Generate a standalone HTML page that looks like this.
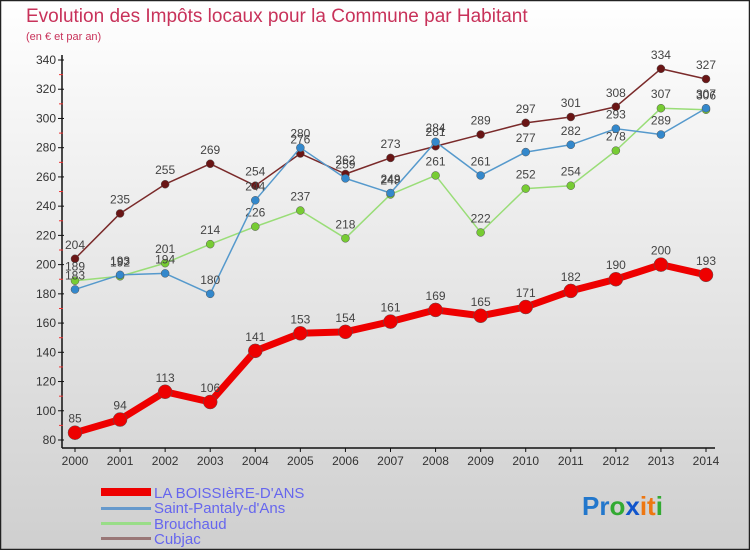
<!DOCTYPE html>
<html><head><meta charset="utf-8"><style>
body{margin:0;width:750px;height:550px;overflow:hidden;font-family:"Liberation Sans",sans-serif}
</style></head><body>
<svg id="c" width="750" height="550" xmlns="http://www.w3.org/2000/svg" style="display:block">
<defs><linearGradient id="bg" x1="0" y1="0" x2="0" y2="1"><stop offset="0" stop-color="#ffffff"/><stop offset="1" stop-color="#cfcfcf"/></linearGradient></defs>
<rect x="0.5" y="0.5" width="749" height="549" fill="url(#bg)" stroke="#222" stroke-width="1.5"/>
<text x="26" y="22" font-size="19" fill="#c8325a">Evolution des Impôts locaux pour la Commune par Habitant</text>
<text x="26" y="40" font-size="11" fill="#c8325a">(en € et par an)</text>
<g id="axes"></g><g id="series"></g>
<g>
<rect x="101" y="488" width="50" height="8" fill="#ee0000"/>
<text x="154" y="498" font-size="15" fill="#6666ee">LA BOISSIèRE-D'ANS</text>
<rect x="101" y="507" width="50" height="3" fill="#6699cc"/>
<text x="154" y="513" font-size="15" fill="#6666ee">Saint-Pantaly-d'Ans</text>
<rect x="101" y="522" width="50" height="3" fill="#99dd88"/>
<text x="154" y="529" font-size="15" fill="#6666ee">Brouchaud</text>
<rect x="101" y="537" width="50" height="3" fill="#997777"/>
<text x="154" y="544" font-size="15" fill="#6666ee">Cubjac</text>
</g>
<text x="582" y="515" font-size="26" font-weight="bold"><tspan fill="#2277cc">Pr</tspan><tspan fill="#33aa33">o</tspan><tspan fill="#1155cc">x</tspan><tspan fill="#ee7711">it</tspan><tspan fill="#33aa33">i</tspan></text>
</svg>
<script>
const years=[2000,2001,2002,2003,2004,2005,2006,2007,2008,2009,2010,2011,2012,2013,2014];
const boissiere=[85,94,113,106,141,153,154,161,169,165,171,182,190,200,193];
const pantaly=[183,193,194,180,244,280,259,249,284,261,277,282,293,289,307];
const brouchaud=[189,192,201,214,226,237,218,248,261,222,252,254,278,307,306];
const cubjac=[204,235,255,269,254,276,262,273,281,289,297,301,308,334,327];
const yTicks=[80,100,120,140,160,180,200,220,240,260,280,300,320,340];
const NS="http://www.w3.org/2000/svg";
const X=i=>75+i*(706-75)/14;
const Y=v=>440-(v-80)*380/260;
function mk(t,a,p){const e=document.createElementNS(NS,t);for(const k in a)e.setAttribute(k,a[k]);p.appendChild(e);return e;}
const ax=document.getElementById('axes');
let e=mk('line',{x1:62,y1:55,x2:62,y2:448,stroke:'#111','stroke-width':1.5},ax);

e=mk('line',{x1:62,y1:448,x2:715,y2:448,stroke:'#111','stroke-width':1.5},ax);

yTicks.forEach((v,i)=>{const y=Y(v);
 mk('line',{x1:58,y1:y,x2:64,y2:y,stroke:'#111'},ax);
 if(i<yTicks.length-1)mk('line',{x1:59,y1:y-14.6,x2:63,y2:y-14.6,stroke:'#e33'},ax);
 const t=mk('text',{x:56,y:y+4,'font-size':12,'text-anchor':'end',fill:'#333'},ax);t.textContent=v;
 });
years.forEach((yr,i)=>{const x=X(i);
 mk('line',{x1:x,y1:448,x2:x,y2:452,stroke:'#111'},ax);
 const t=mk('text',{x:x,y:465,'font-size':12,'text-anchor':'middle',fill:'#333'},ax);t.textContent=yr;
 });
const sg=document.getElementById('series');
function series(d,name,col,dot,w,r,fs){
 const g=mk('g',{},sg);
 const l=mk('polyline',{points:d.map((v,i)=>X(i)+','+Y(v)).join(' '),fill:'none',stroke:col,'stroke-width':w,'stroke-linejoin':'round'},g);
 
 d.forEach((v,i)=>{const c=mk('circle',{cx:X(i),cy:Y(v),r:r,fill:dot,stroke:'#555','stroke-width':0.5},g);
  
  const t=mk('text',{x:X(i),y:Y(v)-10,'font-size':fs,'text-anchor':'middle',fill:'#444'},g);t.textContent=v;
  });
}
series(cubjac,'cubjac','#7a2a2a','#6a1515',1.5,4,12);
series(brouchaud,'brouchaud','#99dd77','#77cc33',1.5,4,12);
series(pantaly,'saint-pantaly','#5599cc','#3388cc',1.5,4,12);
series(boissiere,'la-boissiere','#ee0000','#ee0000',7,7,12);
</script>
</body></html>
